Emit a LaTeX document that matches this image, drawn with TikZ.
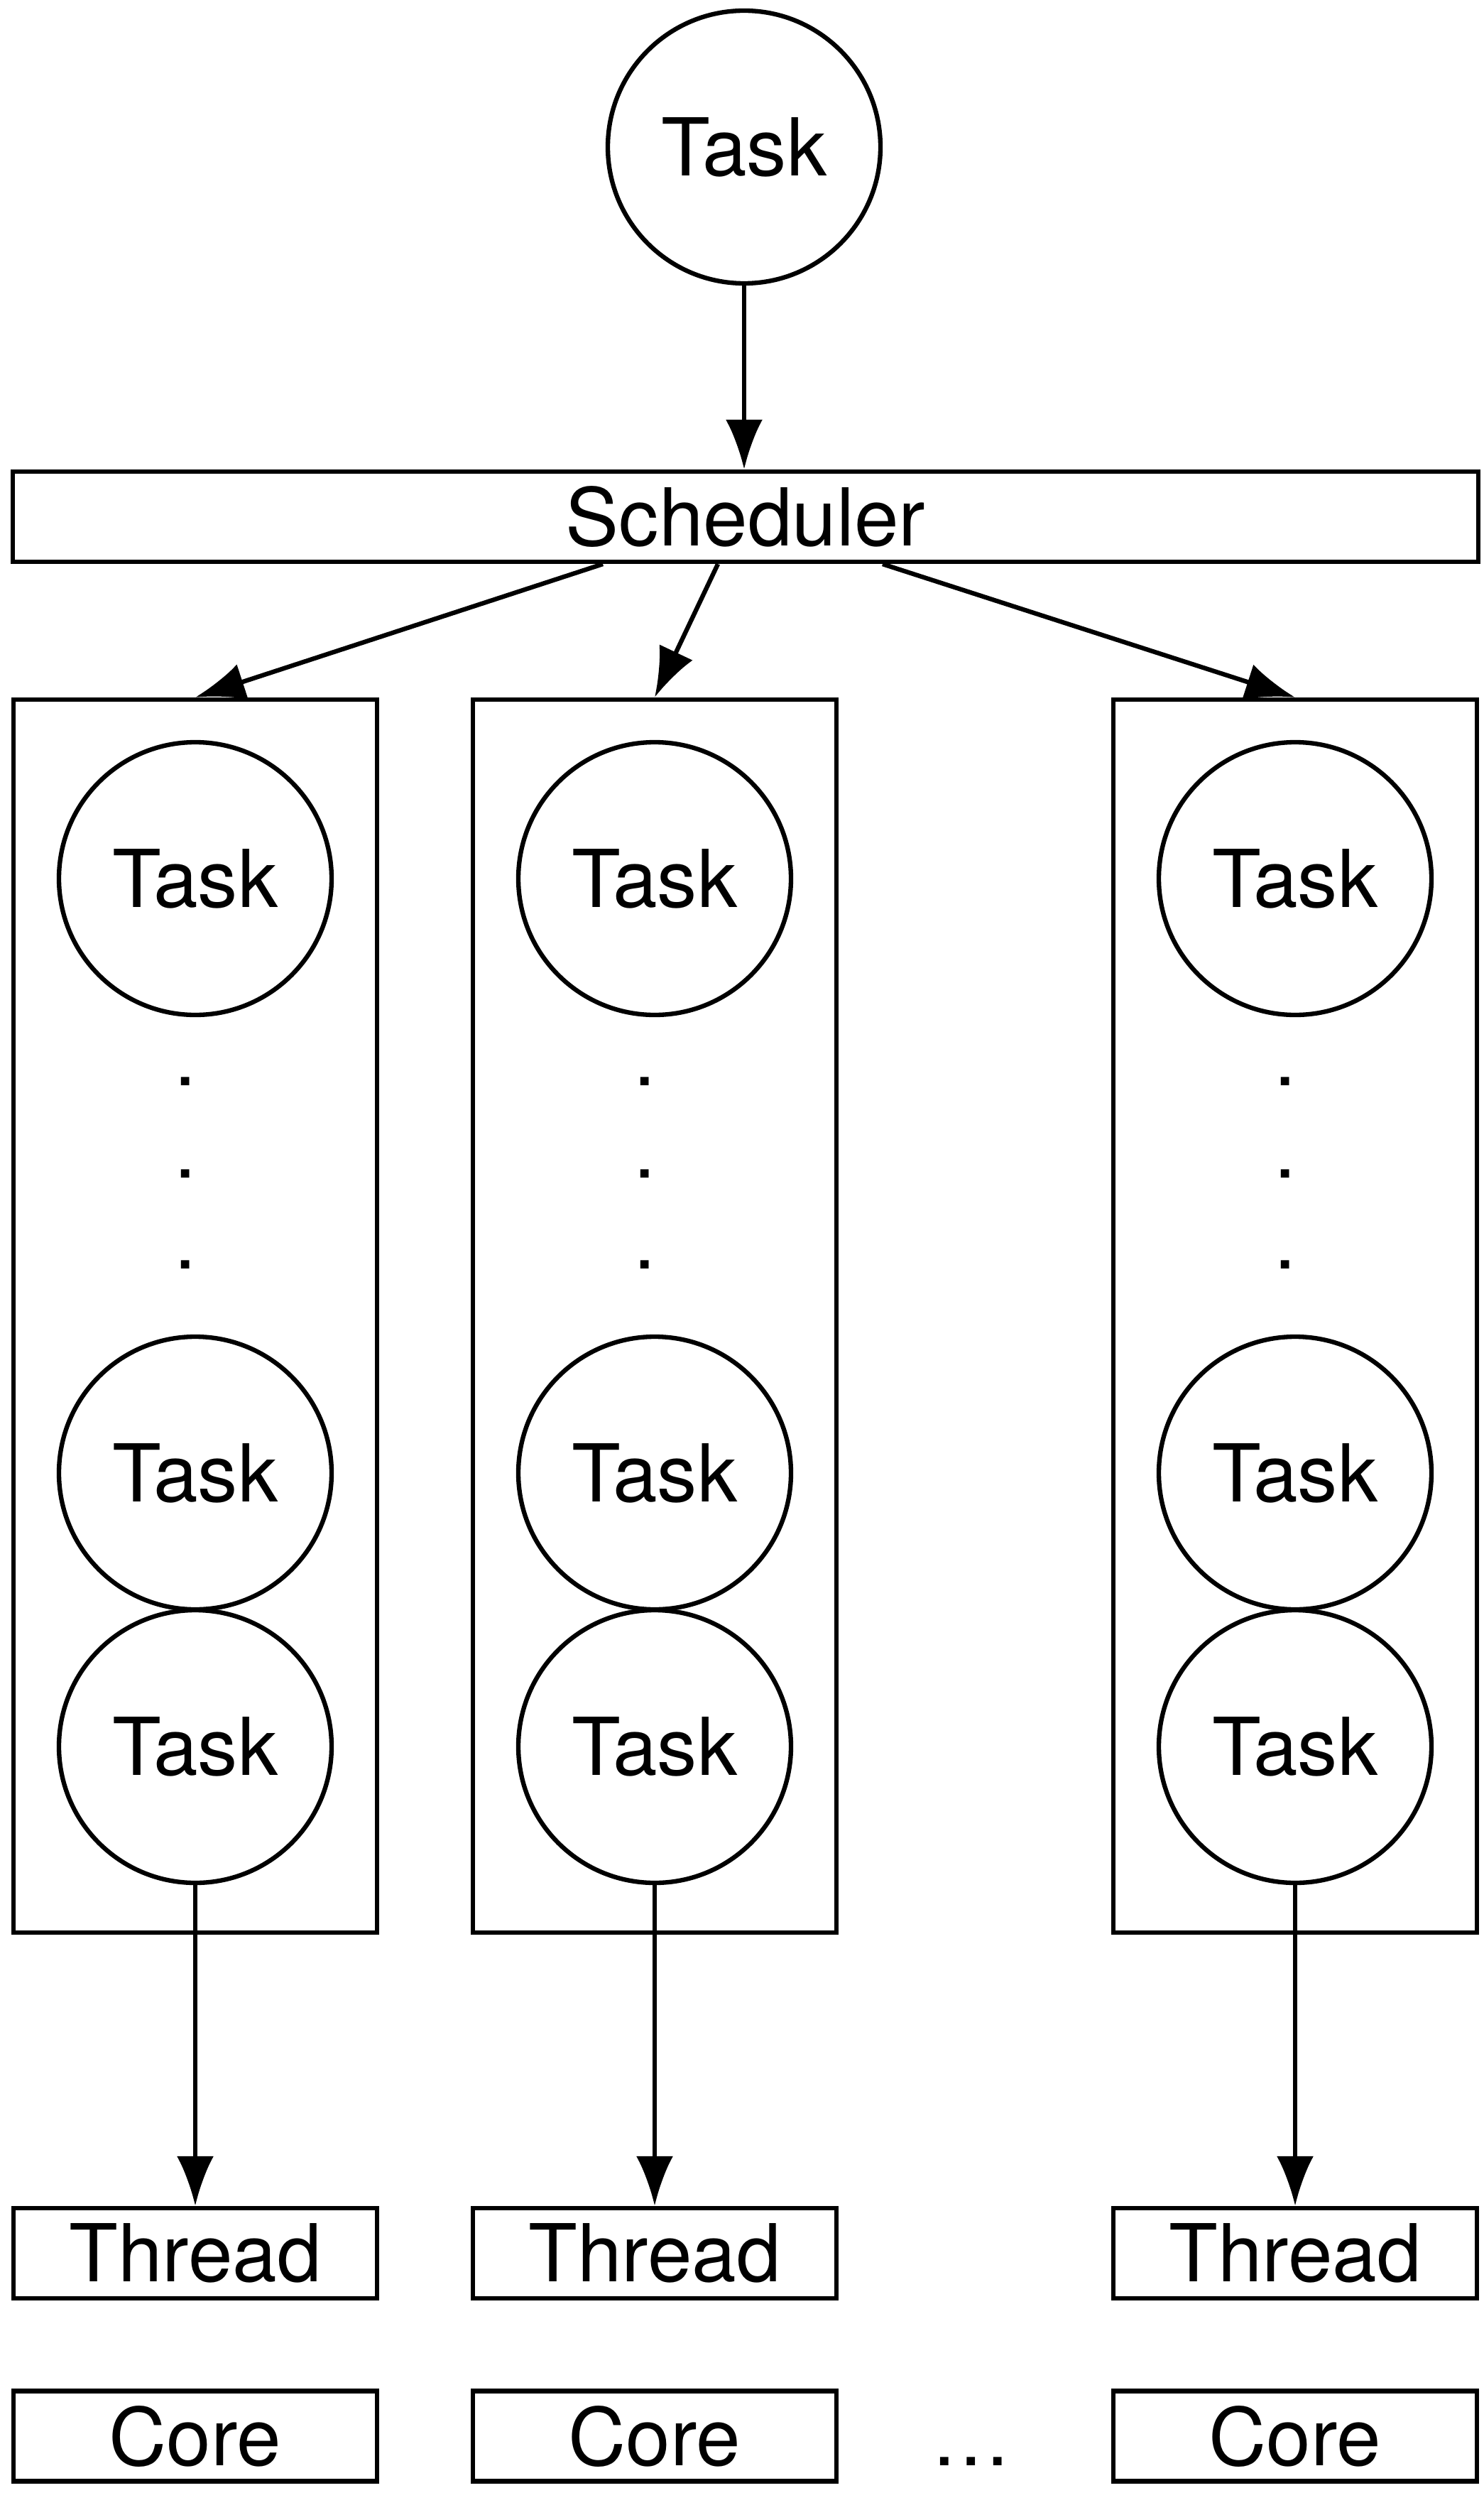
\documentclass[tikz,border=0pt]{standalone}
\usepackage{fontspec}
\setmainfont{TeX Gyre Heros}
\usetikzlibrary{arrows.meta}

\begin{document}
\begin{tikzpicture}[line width=1.8pt, >={Latex[length=7mm,width=5.2mm]},
        every node/.style={font=\fontsize{32}{38}\selectfont},
        task/.style={draw, circle, minimum size=3.84cm, inner sep=0pt},
        bar/.style={draw, rectangle, minimum height=1.27cm, inner sep=0pt}]
        \def\w{5.12}
        \useasboundingbox (0,0) rectangle (20.89,-35.34);

        \node[task] (top) at (10.48,-2.07) {Task};
        \node[bar, minimum width=20.64cm] (sched) at (10.50,-7.275) {Scheduler};
        \draw[->] (top.south) -- (top.south |- sched.north);

        \foreach \name/\x in {a/2.75, b/9.22, c/18.24} {
            \node[draw, minimum width=\w cm, minimum height=17.36cm] (col\name) at (\x,-18.53) {};
            \node[task] (first\name) at (\x,-12.37) {Task};
            \foreach \y [count=\k] in {15.23, 16.53, 17.81} {
                \node[inner sep=0pt] (dot\name\k) at ({\x-0.14},-\y) {.};
            }
            \node[task] (mid\name) at (\x,-20.74) {Task};
            \node[task] (last\name) at (\x,-24.59) {Task};

            \node[bar, minimum width=\w cm] (thread\name) at (\x,-31.725) {Thread};
            \node[bar, minimum width=\w cm] (core\name) at (\x,-34.30) {Core};

            \draw[->] (last\name) -- (thread\name);
        }

        \draw[->] ([xshift=-2.01cm]sched.south) -- (cola.north);
        \draw[->] ([xshift=-0.39cm]sched.south) -- (colb.north);
        \draw[->] ([xshift=1.93cm]sched.south) -- (colc.north);

        \node[anchor=base, inner sep=0pt] (more) at (13.68,0 |- coreb.base) {\dots};
    \end{tikzpicture}
\end{document}
